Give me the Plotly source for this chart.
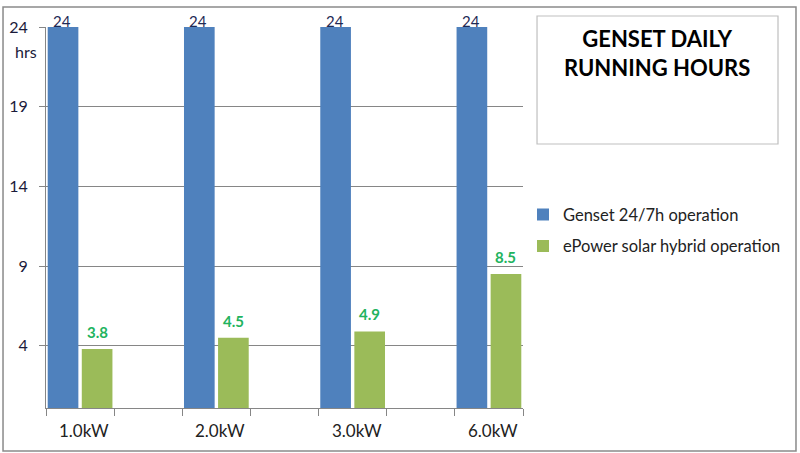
import plotly.graph_objects as go

# chart data
categories = ['1.0kW', '2.0kW', '3.0kW', '6.0kW']
genset_hours = [24, 24, 24, 24]
hybrid_hours = [3.8, 4.5, 4.9, 8.5]
y_ticks = [4, 9, 14, 19, 24]

FONT = 'Lato'

fig = go.Figure()

fig.add_trace(go.Bar(
    x=categories,
    y=genset_hours,
    name='Genset 24/7h operation',
    marker=dict(color='#4F81BD'),
    legendgroup='a',
))

fig.add_trace(go.Bar(
    x=categories,
    y=hybrid_hours,
    name='ePower solar hybrid operation',
    marker=dict(color='#9BBB59'),
    legendgroup='b',
))

# value labels, placed on the bar centres of each group
labels = []
for cat, v in zip(categories, genset_hours):
    labels.append(dict(
        x=cat, y=v, xref='x', yref='y', text=str(v),
        xshift=-18, yshift=-5, yanchor='bottom', showarrow=False,
        font=dict(family=FONT, size=15, color='#1F2A55'),
    ))
for cat, v in zip(categories, hybrid_hours):
    labels.append(dict(
        x=cat, y=v, xref='x', yref='y', text=f'<b>{v}</b>',
        xshift=17, yshift=6, yanchor='bottom', showarrow=False,
        font=dict(family=FONT, size=15, color='#22B35E'),
    ))

# category names under the axis (ticks themselves sit between the bars)
for cat in categories:
    labels.append(dict(
        x=cat, y=0, xref='x', yref='paper', text=cat,
        xshift=4, yshift=-22, yanchor='middle', showarrow=False,
        font=dict(family=FONT, size=17, color='#222222'),
    ))

# Excel style tick marks at both sides of every bar pair
n = len(categories)
tick_pos = [i + d for i in range(n) for d in (-0.25, 0.25)]

fig.update_layout(
    template='none',
    width=800,
    height=453,
    margin=dict(l=46, r=277, t=27, b=45, autoexpand=False),
    paper_bgcolor='white',
    plot_bgcolor='white',
    barmode='group',
    bargap=0.5,
    bargroupgap=0.1,
    font=dict(family=FONT, size=15, color='#222222'),
    showlegend=True,
    legend=dict(
        x=1.0,
        y=0.553,
        xanchor='left',
        yanchor='top',
        traceorder='grouped',
        tracegroupgap=7,
        font=dict(family=FONT, size=16.5, color='#222222'),
        bgcolor='rgba(0,0,0,0)',
    ),
    xaxis=dict(
        type='category',
        range=[-0.25, n - 0.75],
        automargin=False,
        showline=True,
        linecolor='#868686',
        linewidth=1,
        tickmode='array',
        tickvals=tick_pos,
        ticktext=[''] * len(tick_pos),
        ticks='outside',
        ticklen=7,
        tickcolor='#868686',
        showgrid=False,
    ),
    yaxis=dict(
        range=[0.1, 24],
        automargin=False,
        tickmode='array',
        tickvals=y_ticks,
        showline=True,
        linecolor='#868686',
        linewidth=1,
        ticks='outside',
        ticklen=6,
        tickcolor='#868686',
        showgrid=True,
        gridcolor='#868686',
        gridwidth=1,
        zeroline=False,
        ticklabelstandoff=8,
        tickfont=dict(family=FONT, size=16, color='#1a1a3a'),
    ),
    shapes=[
        # outer chart border
        dict(type='rect', xref='paper', yref='paper',
             x0=-0.0901, x1=1.5723, y0=-0.1129, y1=1.0525,
             line=dict(color='#8a8a8a', width=1.5), layer='below'),
        # title box
        dict(type='rect', xref='paper', yref='paper',
             x0=1.0294, x1=1.5346, y0=0.6929, y1=1.0289,
             line=dict(color='#bfbfbf', width=1.2)),
    ],
    annotations=labels + [
        dict(text='<b>GENSET DAILY<br>RUNNING HOURS</b>',
             xref='paper', yref='paper', x=1.281, y=0.932,
             xanchor='center', yanchor='middle', showarrow=False,
             font=dict(family=FONT, size=22, color='black'),
             align='center'),
        dict(text='hrs', xref='paper', yref='paper',
             x=-0.042, y=(408 - 52) / 381,
             xanchor='center', yanchor='middle', showarrow=False,
             font=dict(family=FONT, size=16, color='#1a1a3a')),
    ],
)

# drop the default page margin so the figure sits at the window corner
fig.write_html('out.html', config={'displayModeBar': False},
               post_script="document.body.style.margin='0';")
